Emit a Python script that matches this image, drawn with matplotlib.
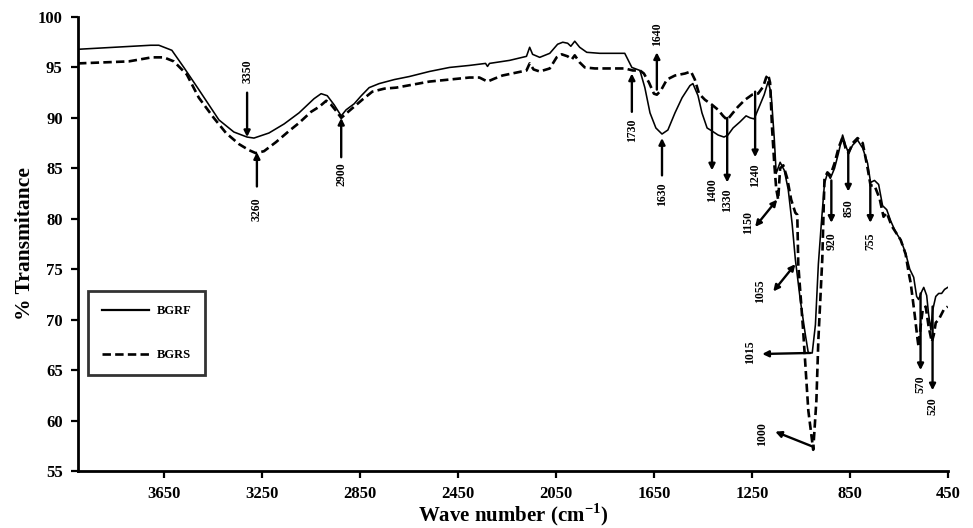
import matplotlib
matplotlib.use("Agg")
import matplotlib.pyplot as plt
from matplotlib.lines import Line2D

# ---------------- data ----------------
bgrf_wn = [4000, 3703, 3670, 3617, 3568, 3507, 3425, 3364, 3310, 3282, 3221, 3159, 3098, 3037,
           3008, 2983, 2955, 2926, 2906, 2873, 2844, 2812, 2771, 2709, 2648, 2566, 2484, 2403,
           2337, 2329, 2321, 2239, 2170, 2157, 2145, 2116, 2075, 2043, 2022, 2002, 1989, 1973,
           1953, 1924, 1871, 1769, 1740, 1707, 1687, 1666, 1642, 1617, 1593, 1564, 1535, 1503,
           1491, 1470, 1454, 1433, 1413, 1388, 1364, 1348, 1327, 1299, 1274, 1257, 1241, 1217,
           1200, 1184, 1172, 1159, 1151, 1135, 1118, 1102, 1086, 1073, 1053, 1032, 1020, 1004,
           991, 979, 967, 954, 942, 930, 913, 897, 880, 868, 856, 839, 819, 798, 778, 766, 750,
           733, 717, 700, 684, 664, 643, 623, 606, 590, 578, 570, 557, 549, 537, 529, 520, 512,
           500, 488, 476, 464, 451]
bgrf_t = [96.8, 97.2, 97.2, 96.7, 95.0, 92.8, 89.8, 88.6, 88.1, 88.0, 88.5, 89.4, 90.5, 91.9,
          92.4, 92.2, 91.3, 90.2, 90.8, 91.4, 92.2, 93.0, 93.4, 93.8, 94.1, 94.6, 95.0, 95.2,
          95.4, 95.1, 95.4, 95.7, 96.1, 97.0, 96.3, 96.0, 96.4, 97.3, 97.5, 97.4, 97.1, 97.6,
          97.0, 96.5, 96.4, 96.4, 95.0, 94.7, 93.0, 90.5, 89.0, 88.4, 88.8, 90.5, 92.0, 93.2,
          93.4, 92.2, 90.5, 89.0, 88.7, 88.3, 88.1, 88.3, 89.0, 89.6, 90.2, 90.0, 89.9, 91.3,
          92.3, 93.6, 92.5, 88.0, 84.5, 85.6, 84.8, 82.9, 79.5, 76.0, 72.0, 68.5, 66.7, 66.7,
          69.5, 75.5, 79.5, 83.5, 84.5, 84.0, 85.0, 86.5, 88.3, 87.3, 86.5, 87.3, 87.8, 87.0,
          85.5, 83.6, 83.8, 83.4, 81.3, 80.9, 79.8, 78.7, 77.9, 76.6, 75.0, 74.2, 72.3, 72.0,
          72.8, 73.2, 72.4, 70.5, 69.0, 71.0, 72.3, 72.6, 72.6, 73.0, 73.2]

bgrs_wn = [4000, 3793, 3699, 3650, 3609, 3556, 3507, 3446, 3396, 3343, 3302, 3274, 3241, 3192,
           3139, 3098, 3049, 3016, 2987, 2967, 2947, 2926, 2893, 2840, 2799, 2750, 2701, 2566,
           2484, 2403, 2362, 2329, 2300, 2268, 2170, 2157, 2141, 2116, 2075, 2047, 2026, 2002,
           1985, 1973, 1953, 1932, 1891, 1769, 1736, 1707, 1691, 1670, 1650, 1638, 1622, 1597,
           1564, 1523, 1499, 1483, 1466, 1442, 1413, 1388, 1368, 1351, 1331, 1307, 1278, 1249,
           1225, 1204, 1192, 1184, 1176, 1168, 1159, 1151, 1143, 1135, 1122, 1106, 1090, 1073,
           1065, 1061, 1041, 1020, 1000, 987, 979, 963, 954, 942, 930, 913, 897, 880, 868, 856,
           839, 819, 798, 778, 766, 750, 729, 713, 700, 680, 643, 623, 610, 602, 586, 574, 570,
           561, 553, 541, 529, 516, 508, 500, 488, 467, 451]
bgrs_t = [95.4, 95.6, 96.0, 96.0, 95.6, 94.3, 92.0, 90.0, 88.5, 87.4, 86.8, 86.5, 86.7, 87.6,
          88.7, 89.5, 90.6, 91.1, 91.7, 91.3, 90.7, 90.0, 90.7, 91.8, 92.6, 92.9, 93.0, 93.6,
          93.8, 94.0, 94.0, 93.6, 93.9, 94.2, 94.7, 95.4, 94.8, 94.6, 94.9, 96.0, 96.3, 96.1,
          95.8, 96.2, 95.5, 95.0, 94.9, 94.9, 94.7, 94.7, 94.4, 93.5, 92.4, 92.3, 92.7, 93.8,
          94.2, 94.4, 94.6, 93.8, 92.4, 91.8, 91.3, 90.8, 90.2, 89.8, 90.4, 91.1, 91.8, 92.3,
          92.4, 93.1, 94.0, 94.3, 93.5, 89.0, 85.5, 83.0, 81.9, 85.0, 85.3, 84.0, 81.9, 80.6,
          80.4, 75.5, 68.9, 61.0, 57.1, 62.0, 68.0, 76.0, 84.0, 84.6, 84.3, 85.5, 87.0, 88.1,
          87.0, 86.5, 87.5, 88.0, 87.5, 85.0, 83.3, 83.3, 82.0, 80.2, 80.6, 79.3, 77.9, 76.5,
          74.6, 73.6, 70.5, 68.0, 67.3, 69.5, 71.0, 71.3, 69.3, 67.8, 68.5, 69.7, 70.0, 71.0,
          71.3]

series_names = ["BGRF", "BGRS"]
x_ticks = [3650, 3250, 2850, 2450, 2050, 1650, 1250, 850, 450]
y_ticks = [55, 60, 65, 70, 75, 80, 85, 90, 95, 100]

# band annotations: label, arrow tail (x, y), arrow head (x, y), label position (x, y), style
band_labels = ["3350", "3260", "2900", "1730", "1640", "1630", "1400", "1330", "1240",
               "1150", "920", "850", "755", "1055", "1015", "1000", "570", "520"]
arrow_tail = [(3310, 92.5), (3270, 83.2), (2926, 86.1), (1740, 90.6), (1638, 92.8),
              (1617, 84.3), (1413, 91.1), (1351, 90.0), (1237, 92.6), (1147, 81.9),
              (926, 83.8), (857, 86.8), (767, 83.3), (1073, 75.5), (1012, 66.7),
              (1000, 57.4), (562, 72.6), (513, 71.3)]
arrow_head = [(3310, 88.1), (3270, 86.6), (2926, 90.0), (1740, 94.4), (1638, 96.5),
              (1617, 88.0), (1413, 84.8), (1351, 83.6), (1237, 86.1), (1237, 79.2),
              (926, 79.6), (857, 82.7), (767, 79.6), (1163, 72.8), (1208, 66.6),
              (1155, 58.9), (562, 65.0), (513, 63.0)]
label_pos = [(3310, 94.6), (3270, 81.0), (2926, 84.4), (1740, 88.8), (1638, 98.3),
             (1617, 82.4), (1413, 82.8), (1351, 81.8), (1237, 84.3), (1266, 79.6),
             (926, 77.8), (857, 81.1), (767, 77.8), (1216, 72.8), (1257, 66.8),
             (1208, 58.7), (562, 63.6), (513, 61.4)]
arrow_styles = ["-|>"] * 9 + ["<|-|>"] + ["-|>"] * 3 + ["<|-|>"] + ["-|>"] * 4

# ---------------- plot ----------------
serif = ["Liberation Serif", "DejaVu Serif"]
plt.rcParams["font.family"] = serif
plt.rcParams["mathtext.fontset"] = "custom"
plt.rcParams["mathtext.rm"] = "Liberation Serif"
plt.rcParams["mathtext.bf"] = "Liberation Serif:bold"

fig = plt.figure(figsize=(9.73, 5.28), dpi=100)
ax = fig.add_axes([78 / 973, 1 - 471 / 528, 870 / 973, 454 / 528])

ax.plot(bgrf_wn, bgrf_t, color="black", lw=1.15, solid_joinstyle="round", label=series_names[0])
ax.plot(bgrs_wn, bgrs_t, color="black", lw=1.9, linestyle=(0, (3.2, 1.6)), label=series_names[1])

for lab, tail, head, lp, st in zip(band_labels, arrow_tail, arrow_head, label_pos, arrow_styles):
    ax.annotate("", xy=head, xytext=tail,
                arrowprops=dict(arrowstyle=st, color="black", lw=1.7,
                                mutation_scale=9, shrinkA=0, shrinkB=0))
    ax.text(lp[0], lp[1], lab, rotation=90, ha="center", va="center",
            fontsize=8.5, family=serif, fontweight="bold", color="black")

ax.set_xlim(4000, 450)
ax.set_ylim(55, 100)
ax.set_xticks(x_ticks)
ax.set_yticks(y_ticks)
for lab in ax.get_xticklabels() + ax.get_yticklabels():
    lab.set_fontweight("bold")
    lab.set_fontsize(12)
ax.tick_params(axis="both", direction="out", length=5, width=1.6, pad=6, colors="black")

for s in ["top", "right"]:
    ax.spines[s].set_visible(False)
for s in ["left", "bottom"]:
    ax.spines[s].set_linewidth(2)
    ax.spines[s].set_color("black")

fig.text(513 / 973, 7 / 528, "Wave number (cm$^{\\mathbf{-1}}$)", fontsize=15,
         fontweight="bold", ha="center", va="baseline")
ax.set_ylabel("% Transmitance", fontsize=15.5, fontweight="bold", labelpad=2)

handles = [Line2D([], [], color="black", lw=1.6),
           Line2D([], [], color="black", lw=1.9, linestyle=(0, (3.2, 1.6)))]
leg = ax.legend(handles, series_names, loc="upper left", bbox_to_anchor=(0.0115, 0.396),
                borderaxespad=0, frameon=True, fancybox=False, edgecolor="black",
                prop=dict(family=serif, weight="bold", size=9),
                handlelength=3.8, handletextpad=0.6, labelspacing=2.6, borderpad=1.1)
leg.get_frame().set_linewidth(2)

fig.savefig("out.png", dpi=100, facecolor="white")
